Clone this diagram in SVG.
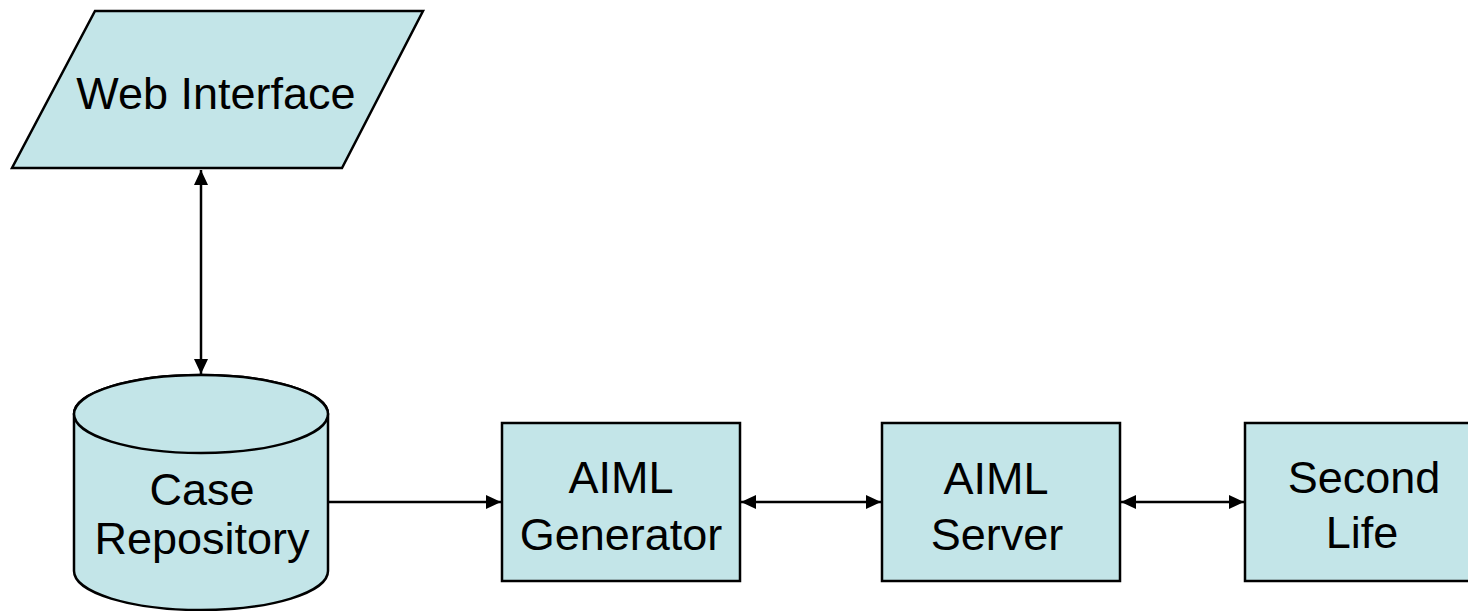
<svg xmlns="http://www.w3.org/2000/svg" width="1468" height="611" viewBox="0 0 1468 611">
  <defs>
    <style>
      .shape { fill: #C3E5E8; stroke: #000; stroke-width: 2.5; }
      .label { font-family: "Liberation Sans", Arial, sans-serif; font-size: 45px; fill: #000; text-anchor: middle; }
      .wire { stroke: #000; stroke-width: 2.5; fill: none; }
    </style>
    <marker id="head" viewBox="0 0 15 14" refX="15" refY="7" markerWidth="15" markerHeight="14" markerUnits="userSpaceOnUse" orient="auto-start-reverse">
      <path d="M0,0 L15,7 L0,14 Z" fill="#000"/>
    </marker>
  </defs>
  <rect width="1468" height="611" fill="#fff"/>

  <g id="web-interface">
    <polygon class="shape" points="95,11 423,11 342,168 12,168"/>
    <text class="label" x="216" y="109" font-size="47.5">Web Interface</text>
  </g>

  <g id="case-repository">
    <path class="shape" d="M74,414 L74,571 A127,39 0 0 0 328,571 L328,414 A127,39 0 0 0 74,414 Z"/>
    <ellipse class="shape" cx="201" cy="414" rx="127" ry="39"/>
    <text class="label" x="202" y="505">Case</text>
    <text class="label" x="202" y="554">Repository</text>
  </g>

  <g id="aiml-generator">
    <rect class="shape" x="502" y="423" width="238" height="158"/>
    <text class="label" x="621" y="493">AIML</text>
    <text class="label" x="621" y="550">Generator</text>
  </g>

  <g id="aiml-server">
    <rect class="shape" x="882" y="423" width="238" height="158"/>
    <text class="label" x="996" y="494">AIML</text>
    <text class="label" x="997" y="550">Server</text>
  </g>

  <g id="second-life">
    <rect class="shape" x="1245" y="423" width="238" height="158"/>
    <text class="label" x="1364" y="493">Second</text>
    <text class="label" x="1362" y="548">Life</text>
  </g>

  <g id="connectors">
    <line class="wire" x1="201" y1="170" x2="201" y2="374" marker-start="url(#head)" marker-end="url(#head)"/>
    <line class="wire" x1="328" y1="502" x2="501" y2="502" marker-end="url(#head)"/>
    <line class="wire" x1="741" y1="502" x2="881" y2="502" marker-start="url(#head)" marker-end="url(#head)"/>
    <line class="wire" x1="1121" y1="502" x2="1244" y2="502" marker-start="url(#head)" marker-end="url(#head)"/>
  </g>
</svg>
